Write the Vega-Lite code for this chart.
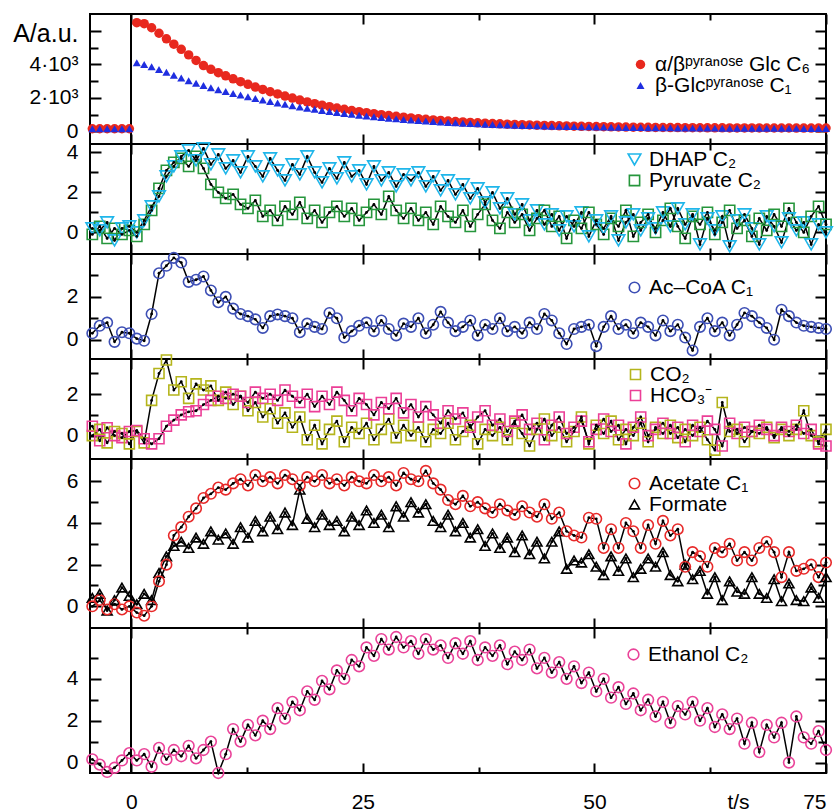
{
"$schema":"https://vega.github.io/schema/vega-lite/v6.json",
"padding":{"left":11,"top":12,"right":0,"bottom":5},
"background":"white",
"config":{"font":"Liberation Sans","view":{"stroke":"black","strokeWidth":2},
"axis":{"grid":false,"domain":false,"tickColor":"black","tickWidth":2,"labelColor":"black","labelFontSize":21,"labelFont":"Liberation Sans","titleColor":"black","titleFontSize":21,"titleFontWeight":"normal","titleFont":"Liberation Sans"},
"legend":{"labelFont":"Liberation Sans","labelFontSize":21,"labelColor":"black","padding":0,"labelOffset":4,"symbolStrokeWidth":1.6,"labelLimit":400}},
"spacing":0,
"bounds":"flush",
"resolve":{"scale":{"color":"independent","shape":"independent","size":"independent"},"legend":{"color":"independent","shape":"independent","size":"independent"}},
"datasets":{"d":[
{"t":-4.2,"g6":150,"g1":150,"dh":0.2,"py":-0.1,"ac":0.3,"co":0.0,"hc":0.45,"at":0.0,"fo":0.4,"et":0.15},
{"t":-3.4,"g6":150,"g1":150,"dh":0.1,"py":0.3,"ac":0.65,"co":0.3,"hc":-0.25,"at":0.3,"fo":0.6,"et":-0.1},
{"t":-2.6,"g6":150,"g1":150,"dh":0.5,"py":-0.3,"ac":0.8,"co":-0.35,"hc":0.38,"at":-0.15,"fo":-0.2,"et":-0.45},
{"t":-1.8,"g6":150,"g1":150,"dh":-0.4,"py":0.2,"ac":-0.1,"co":0.2,"hc":0.0,"at":0.1,"fo":0.3,"et":-0.25},
{"t":-1.0,"g6":150,"g1":150,"dh":0.2,"py":-0.1,"ac":0.35,"co":0.1,"hc":-0.1,"at":-0.15,"fo":0.9,"et":0.1},
{"t":-0.2,"g6":150,"g1":150,"dh":0.3,"py":0.1,"ac":0.3,"co":-0.4,"hc":0.2,"at":0.0,"fo":0.5,"et":0.45},
{"t":0.6,"g6":6480,"g1":4090,"dh":0.0,"py":-0.2,"ac":0.05,"co":0.2,"hc":0.25,"at":-0.3,"fo":0.1,"et":0.1},
{"t":1.4,"g6":6420,"g1":3990,"dh":0.6,"py":0.4,"ac":-0.05,"co":-0.35,"hc":-0.15,"at":-0.45,"fo":0.6,"et":0.4},
{"t":2.2,"g6":6180,"g1":3850,"dh":1.3,"py":1.1,"ac":1.2,"co":1.7,"hc":-0.4,"at":0.0,"fo":0.3,"et":-0.2},
{"t":3.0,"g6":5850,"g1":3690,"dh":1.8,"py":2.2,"ac":3.1,"co":3.0,"hc":-0.15,"at":1.2,"fo":1.6,"et":0.7},
{"t":3.8,"g6":5520,"g1":3520,"dh":2.8,"py":3.1,"ac":3.45,"co":3.65,"hc":0.45,"at":2.0,"fo":2.4,"et":0.15},
{"t":4.6,"g6":5200,"g1":3350,"dh":3.3,"py":3.5,"ac":3.82,"co":2.2,"hc":0.75,"at":3.4,"fo":2.9,"et":0.6},
{"t":5.4,"g6":4890,"g1":3180,"dh":3.8,"py":3.7,"ac":3.6,"co":2.6,"hc":1.0,"at":3.8,"fo":3.1,"et":0.3},
{"t":6.2,"g6":4560,"g1":3020,"dh":4.1,"py":3.3,"ac":2.7,"co":1.8,"hc":1.15,"at":4.3,"fo":2.8,"et":0.8},
{"t":7.0,"g6":4230,"g1":2870,"dh":3.6,"py":3.8,"ac":2.8,"co":2.5,"hc":1.2,"at":4.7,"fo":3.3,"et":0.2},
{"t":7.8,"g6":3920,"g1":2730,"dh":4.2,"py":3.2,"ac":2.95,"co":2.2,"hc":1.5,"at":5.2,"fo":3.0,"et":0.6},
{"t":8.6,"g6":3700,"g1":2600,"dh":3.4,"py":2.4,"ac":2.3,"co":2.4,"hc":1.7,"at":5.4,"fo":3.6,"et":1.0},
{"t":9.4,"g6":3500,"g1":2480,"dh":3.9,"py":2.0,"ac":1.75,"co":1.7,"hc":1.9,"at":5.7,"fo":3.2,"et":-0.5},
{"t":10.2,"g6":3310,"g1":2370,"dh":3.2,"py":1.7,"ac":2.0,"co":2.1,"hc":1.8,"at":5.6,"fo":3.5,"et":0.4},
{"t":11.0,"g6":3130,"g1":2260,"dh":3.6,"py":1.9,"ac":1.45,"co":1.5,"hc":2.0,"at":5.9,"fo":3.0,"et":1.6},
{"t":11.8,"g6":2960,"g1":2160,"dh":3.0,"py":1.4,"ac":1.2,"co":1.9,"hc":1.9,"at":6.1,"fo":3.8,"et":1.0},
{"t":12.6,"g6":2800,"g1":2060,"dh":3.8,"py":1.2,"ac":1.1,"co":1.2,"hc":1.6,"at":5.8,"fo":3.3,"et":1.8},
{"t":13.4,"g6":2640,"g1":1960,"dh":3.3,"py":1.6,"ac":0.95,"co":1.6,"hc":2.1,"at":6.3,"fo":4.1,"et":1.3},
{"t":14.2,"g6":2500,"g1":1870,"dh":2.8,"py":0.8,"ac":0.55,"co":0.9,"hc":1.8,"at":6.0,"fo":3.6,"et":2.0},
{"t":15.0,"g6":2360,"g1":1780,"dh":3.7,"py":1.1,"ac":1.1,"co":1.3,"hc":2.0,"at":6.2,"fo":4.3,"et":1.6},
{"t":15.8,"g6":2230,"g1":1690,"dh":3.1,"py":0.6,"ac":1.18,"co":0.6,"hc":1.7,"at":5.9,"fo":3.7,"et":2.6},
{"t":16.6,"g6":2100,"g1":1610,"dh":2.6,"py":1.3,"ac":1.1,"co":1.1,"hc":2.2,"at":6.3,"fo":4.5,"et":2.1},
{"t":17.4,"g6":1980,"g1":1530,"dh":3.4,"py":0.9,"ac":1.0,"co":0.4,"hc":1.9,"at":6.1,"fo":3.9,"et":2.9},
{"t":18.2,"g6":1860,"g1":1450,"dh":2.9,"py":1.5,"ac":0.35,"co":0.9,"hc":1.6,"at":5.8,"fo":5.6,"et":2.5},
{"t":19.0,"g6":1750,"g1":1380,"dh":3.8,"py":0.7,"ac":0.75,"co":-0.2,"hc":2.0,"at":6.2,"fo":4.2,"et":3.4},
{"t":19.8,"g6":1650,"g1":1310,"dh":3.0,"py":1.1,"ac":0.6,"co":0.5,"hc":1.4,"at":6.0,"fo":3.8,"et":3.0},
{"t":20.6,"g6":1560,"g1":1245,"dh":2.5,"py":0.5,"ac":0.5,"co":-0.4,"hc":1.9,"at":6.3,"fo":4.4,"et":3.9},
{"t":21.4,"g6":1470,"g1":1180,"dh":3.2,"py":1.0,"ac":1.25,"co":0.3,"hc":1.5,"at":5.9,"fo":3.9,"et":3.5},
{"t":22.2,"g6":1390,"g1":1120,"dh":2.7,"py":1.3,"ac":1.0,"co":0.7,"hc":2.1,"at":6.1,"fo":4.1,"et":4.4},
{"t":23.0,"g6":1310,"g1":1065,"dh":3.5,"py":0.8,"ac":0.1,"co":-0.3,"hc":1.7,"at":5.8,"fo":3.6,"et":4.0},
{"t":23.8,"g6":1240,"g1":1010,"dh":2.8,"py":1.2,"ac":0.4,"co":0.4,"hc":1.2,"at":6.2,"fo":4.3,"et":4.9},
{"t":24.6,"g6":1170,"g1":960,"dh":3.1,"py":0.6,"ac":0.65,"co":0.1,"hc":1.8,"at":6.0,"fo":3.9,"et":4.6},
{"t":25.4,"g6":1110,"g1":910,"dh":2.4,"py":1.0,"ac":0.8,"co":0.6,"hc":1.5,"at":5.9,"fo":4.6,"et":5.5},
{"t":26.2,"g6":1050,"g1":865,"dh":3.3,"py":1.4,"ac":0.4,"co":-0.2,"hc":1.0,"at":6.3,"fo":4.0,"et":5.1},
{"t":27.0,"g6":990,"g1":820,"dh":2.6,"py":0.9,"ac":0.9,"co":0.3,"hc":1.6,"at":6.0,"fo":4.4,"et":5.9},
{"t":27.8,"g6":940,"g1":780,"dh":3.0,"py":1.8,"ac":0.5,"co":0.8,"hc":1.3,"at":6.2,"fo":3.8,"et":5.4},
{"t":28.6,"g6":890,"g1":740,"dh":2.3,"py":1.1,"ac":0.2,"co":-0.1,"hc":1.8,"at":5.8,"fo":4.8,"et":6.0},
{"t":29.4,"g6":840,"g1":705,"dh":2.9,"py":0.7,"ac":0.75,"co":0.5,"hc":1.1,"at":6.4,"fo":4.3,"et":5.5},
{"t":30.2,"g6":795,"g1":670,"dh":2.6,"py":1.2,"ac":0.6,"co":0.0,"hc":1.5,"at":6.1,"fo":5.0,"et":5.8},
{"t":31.0,"g6":755,"g1":638,"dh":3.0,"py":0.6,"ac":1.0,"co":0.4,"hc":0.9,"at":6.0,"fo":4.5,"et":5.2},
{"t":31.8,"g6":715,"g1":608,"dh":2.3,"py":1.0,"ac":0.3,"co":-0.3,"hc":1.4,"at":6.5,"fo":4.9,"et":5.9},
{"t":32.6,"g6":680,"g1":580,"dh":2.8,"py":0.4,"ac":0.7,"co":0.3,"hc":1.0,"at":5.9,"fo":4.1,"et":5.4},
{"t":33.4,"g6":645,"g1":553,"dh":2.1,"py":1.3,"ac":1.3,"co":0.1,"hc":0.6,"at":5.6,"fo":3.8,"et":5.6},
{"t":34.2,"g6":612,"g1":528,"dh":2.6,"py":0.8,"ac":0.8,"co":0.6,"hc":1.2,"at":5.1,"fo":4.4,"et":5.0},
{"t":35.0,"g6":582,"g1":505,"dh":1.9,"py":0.5,"ac":0.4,"co":-0.2,"hc":0.8,"at":4.9,"fo":3.6,"et":5.7},
{"t":35.8,"g6":555,"g1":483,"dh":2.4,"py":1.1,"ac":0.6,"co":0.2,"hc":1.1,"at":5.3,"fo":4.0,"et":5.2},
{"t":36.6,"g6":530,"g1":462,"dh":1.7,"py":0.3,"ac":0.9,"co":0.5,"hc":0.4,"at":4.8,"fo":3.3,"et":5.8},
{"t":37.4,"g6":505,"g1":443,"dh":2.2,"py":0.9,"ac":0.2,"co":-0.4,"hc":0.9,"at":5.0,"fo":3.7,"et":4.9},
{"t":38.2,"g6":483,"g1":425,"dh":1.5,"py":1.4,"ac":0.7,"co":0.3,"hc":1.2,"at":4.7,"fo":2.9,"et":5.5},
{"t":39.0,"g6":462,"g1":408,"dh":2.0,"py":0.6,"ac":0.5,"co":0.0,"hc":0.5,"at":4.5,"fo":3.5,"et":5.1},
{"t":39.8,"g6":443,"g1":392,"dh":1.2,"py":0.2,"ac":1.0,"co":0.4,"hc":0.8,"at":4.9,"fo":2.8,"et":5.6},
{"t":40.6,"g6":425,"g1":377,"dh":1.7,"py":1.0,"ac":0.4,"co":-0.2,"hc":0.2,"at":4.6,"fo":3.3,"et":4.7},
{"t":41.4,"g6":408,"g1":363,"dh":0.9,"py":0.5,"ac":0.6,"co":0.6,"hc":0.7,"at":4.4,"fo":2.6,"et":5.3},
{"t":42.2,"g6":392,"g1":350,"dh":1.4,"py":0.9,"ac":0.3,"co":0.1,"hc":1.0,"at":4.8,"fo":3.4,"et":4.9},
{"t":43.0,"g6":377,"g1":338,"dh":0.6,"py":0.1,"ac":0.8,"co":-0.5,"hc":0.3,"at":4.5,"fo":2.5,"et":5.4},
{"t":43.8,"g6":363,"g1":326,"dh":1.1,"py":0.7,"ac":0.5,"co":0.3,"hc":0.6,"at":4.3,"fo":3.1,"et":4.5},
{"t":44.6,"g6":350,"g1":315,"dh":0.4,"py":1.1,"ac":1.2,"co":0.8,"hc":-0.2,"at":4.9,"fo":2.3,"et":5.0},
{"t":45.4,"g6":338,"g1":305,"dh":0.9,"py":0.3,"ac":0.9,"co":0.0,"hc":0.5,"at":4.2,"fo":3.1,"et":4.3},
{"t":46.2,"g6":327,"g1":295,"dh":0.1,"py":0.8,"ac":0.3,"co":0.4,"hc":0.9,"at":4.5,"fo":3.6,"et":4.8},
{"t":47.0,"g6":316,"g1":286,"dh":0.8,"py":-0.3,"ac":-0.2,"co":-0.3,"hc":0.1,"at":3.6,"fo":1.8,"et":4.0},
{"t":47.8,"g6":306,"g1":278,"dh":0.3,"py":0.6,"ac":0.5,"co":0.2,"hc":0.4,"at":3.4,"fo":2.2,"et":4.6},
{"t":48.6,"g6":297,"g1":270,"dh":1.0,"py":0.2,"ac":0.6,"co":0.9,"hc":0.7,"at":3.3,"fo":2.1,"et":3.8},
{"t":49.4,"g6":288,"g1":262,"dh":-0.2,"py":1.0,"ac":0.7,"co":-0.4,"hc":-0.3,"at":4.25,"fo":2.5,"et":4.3},
{"t":50.2,"g6":280,"g1":255,"dh":0.6,"py":0.4,"ac":-0.3,"co":0.5,"hc":0.3,"at":4.2,"fo":1.9,"et":3.4},
{"t":51.0,"g6":272,"g1":248,"dh":0.2,"py":-0.1,"ac":0.6,"co":0.1,"hc":0.8,"at":2.8,"fo":1.5,"et":4.0},
{"t":51.8,"g6":265,"g1":242,"dh":0.8,"py":0.7,"ac":1.1,"co":0.7,"hc":0.2,"at":3.7,"fo":2.4,"et":3.1},
{"t":52.6,"g6":258,"g1":236,"dh":-0.4,"py":0.3,"ac":0.5,"co":-0.2,"hc":0.5,"at":2.8,"fo":1.7,"et":3.6},
{"t":53.4,"g6":252,"g1":230,"dh":0.5,"py":1.1,"ac":0.7,"co":0.3,"hc":-0.4,"at":4.0,"fo":2.3,"et":2.8},
{"t":54.2,"g6":246,"g1":225,"dh":0.9,"py":-0.2,"ac":0.3,"co":0.0,"hc":0.4,"at":3.6,"fo":1.4,"et":3.3},
{"t":55.0,"g6":240,"g1":220,"dh":0.1,"py":0.5,"ac":0.8,"co":0.6,"hc":0.9,"at":2.8,"fo":1.8,"et":2.5},
{"t":55.8,"g6":235,"g1":216,"dh":0.7,"py":0.9,"ac":0.6,"co":-0.3,"hc":0.0,"at":3.9,"fo":2.3,"et":3.0},
{"t":56.6,"g6":230,"g1":212,"dh":0.2,"py":0.0,"ac":0.2,"co":0.4,"hc":0.3,"at":3.0,"fo":1.9,"et":2.2},
{"t":57.4,"g6":226,"g1":208,"dh":1.0,"py":0.6,"ac":0.9,"co":0.1,"hc":0.6,"at":4.1,"fo":2.6,"et":2.9},
{"t":58.2,"g6":222,"g1":204,"dh":0.3,"py":1.2,"ac":0.4,"co":0.5,"hc":0.1,"at":3.4,"fo":1.5,"et":1.9},
{"t":59.0,"g6":218,"g1":201,"dh":1.2,"py":0.3,"ac":0.7,"co":-0.1,"hc":0.4,"at":3.7,"fo":1.2,"et":2.7},
{"t":59.8,"g6":215,"g1":198,"dh":0.4,"py":-0.3,"ac":0.1,"co":0.3,"hc":-0.3,"at":1.9,"fo":2.0,"et":2.3},
{"t":60.6,"g6":212,"g1":195,"dh":0.9,"py":0.8,"ac":-0.5,"co":0.0,"hc":0.5,"at":2.6,"fo":1.3,"et":2.9},
{"t":61.4,"g6":209,"g1":192,"dh":-0.6,"py":0.4,"ac":0.6,"co":0.4,"hc":0.2,"at":2.4,"fo":1.7,"et":2.0},
{"t":62.2,"g6":207,"g1":190,"dh":0.7,"py":1.0,"ac":1.0,"co":-0.2,"hc":0.7,"at":1.9,"fo":0.6,"et":2.6},
{"t":63.0,"g6":205,"g1":188,"dh":0.1,"py":-0.1,"ac":0.4,"co":-0.7,"hc":0.3,"at":2.8,"fo":1.4,"et":1.7},
{"t":63.8,"g6":203,"g1":186,"dh":0.8,"py":0.5,"ac":0.8,"co":1.6,"hc":-0.5,"at":2.6,"fo":0.3,"et":2.3},
{"t":64.6,"g6":201,"g1":184,"dh":-0.7,"py":1.1,"ac":0.2,"co":0.2,"hc":0.6,"at":3.0,"fo":1.2,"et":1.6},
{"t":65.4,"g6":200,"g1":182,"dh":0.6,"py":0.2,"ac":0.7,"co":0.3,"hc":0.1,"at":2.2,"fo":0.7,"et":2.1},
{"t":66.2,"g6":199,"g1":180,"dh":0.9,"py":0.6,"ac":1.25,"co":-0.3,"hc":0.4,"at":2.6,"fo":0.6,"et":0.9},
{"t":67.0,"g6":198,"g1":179,"dh":0.2,"py":-0.2,"ac":1.1,"co":0.2,"hc":0.2,"at":2.2,"fo":1.4,"et":1.9},
{"t":67.8,"g6":197,"g1":178,"dh":-0.6,"py":0.7,"ac":0.8,"co":0.1,"hc":0.5,"at":2.8,"fo":0.6,"et":0.5},
{"t":68.6,"g6":196,"g1":177,"dh":0.8,"py":0.1,"ac":0.55,"co":0.4,"hc":0.3,"at":3.1,"fo":0.4,"et":1.8},
{"t":69.4,"g6":195,"g1":176,"dh":0.3,"py":0.9,"ac":0.0,"co":-0.1,"hc":0.0,"at":2.6,"fo":1.3,"et":1.2},
{"t":70.2,"g6":194,"g1":175,"dh":-0.5,"py":0.3,"ac":1.4,"co":0.3,"hc":0.4,"at":1.4,"fo":0.25,"et":1.9},
{"t":71.0,"g6":194,"g1":174,"dh":0.7,"py":1.2,"ac":1.1,"co":0.0,"hc":0.2,"at":2.6,"fo":1.1,"et":0.0},
{"t":71.8,"g6":193,"g1":173,"dh":0.1,"py":0.5,"ac":0.8,"co":0.3,"hc":0.5,"at":1.7,"fo":0.3,"et":2.2},
{"t":72.6,"g6":192,"g1":172,"dh":0.5,"py":0.0,"ac":0.65,"co":1.2,"hc":0.1,"at":1.8,"fo":0.25,"et":1.2},
{"t":73.4,"g6":192,"g1":172,"dh":-0.6,"py":0.8,"ac":0.6,"co":0.0,"hc":0.3,"at":2.0,"fo":0.9,"et":0.9},
{"t":74.2,"g6":191,"g1":171,"dh":0.4,"py":1.3,"ac":0.55,"co":-0.3,"hc":-0.4,"at":1.4,"fo":0.4,"et":1.5},
{"t":75.0,"g6":190,"g1":170,"dh":0.0,"py":0.4,"ac":0.5,"co":0.3,"hc":-0.5,"at":2.1,"fo":1.4,"et":0.6}
]},
"vconcat":[
{"width":736,"height":130,"data":{"name":"d"},
 "transform":[{"fold":["g6","g1"],"as":["s","v"]}],
 "layer":[
  {"mark":{"type":"rule","color":"black","strokeWidth":1.5},"encoding":{"x":{"datum":0,"type":"quantitative","scale":{"domain":[-4.45,75],"nice":false,"zero":false},"axis":{"orient":"top","values":[0,12.5,25,37.5,50,62.5,75],"labels":false,"title":null,"tickSize":{"condition":{"test":"datum.value % 25 === 0","value":-10},"value":-6}}}}},
  {"mark":{"type":"point","filled":true,"opacity":1},
   "encoding":{"x":{"field":"t","type":"quantitative","axis":{"orient":"bottom","values":[0,12.5,25,37.5,50,62.5,75],"labels":false,"title":null,"tickSize":{"condition":{"test":"datum.value % 25 === 0","value":-10},"value":-6}}},
    "y":{"field":"v","type":"quantitative","scale":{"domain":[-760,7000],"nice":false,"zero":false},"axis":{"orient":"left","values":[0,1000,2000,3000,4000,5000,6000],"labelExpr":"datum.value === 0 ? '0' : datum.value === 2000 ? '2·10³' : datum.value === 4000 ? '4·10³' : ''","labelPadding":23,"title":"A/a.u.","titleFontSize":25,"titleAngle":0,"titleAlign":"right","titleBaseline":"middle","titleX":-12,"titleY":19,"tickSize":{"condition":{"test":"datum.value % 2000 === 0","value":-11},"value":-8}}},
    "color":{"field":"s","type":"nominal","scale":{"domain":["g6","g1"],"range":["#e8281e","#1f2ee0"]},"legend":{"orient":"none","legendX":540,"legendY":40,"title":null,"symbolSize":80,"rowPadding":-3,"labelExpr":"datum.label === 'g6' ? 'α/βᵖʸʳᵃⁿᵒˢᵉ Glc C₆' : 'β-Glcᵖʸʳᵃⁿᵒˢᵉ C₁'"}},
    "shape":{"field":"s","type":"nominal","scale":{"domain":["g6","g1"],"range":["circle","triangle-up"]},"legend":{"orient":"none","legendX":540,"legendY":40,"title":null,"symbolSize":80,"rowPadding":-3,"labelExpr":"datum.label === 'g6' ? 'α/βᵖʸʳᵃⁿᵒˢᵉ Glc C₆' : 'β-Glcᵖʸʳᵃⁿᵒˢᵉ C₁'"}},
    "size":{"field":"s","type":"nominal","scale":{"domain":["g6","g1"],"range":[90,65]},"legend":null}}},
  {"mark":{"type":"point","opacity":0},"encoding":{"x":{"field":"t","type":"quantitative","axis":null},"y":{"field":"v","type":"quantitative","axis":{"orient":"right","values":[0,1000,2000,3000,4000,5000,6000],"labels":false,"title":null,"tickSize":{"condition":{"test":"datum.value % 2000 === 0","value":-11},"value":-8}}}}}
 ],
 "resolve":{"axis":{"x":"independent","y":"independent"}}},
{"width":736,"height":110,"data":{"name":"d"},
 "transform":[{"fold":["py","dh"],"as":["s","v"]}],
 "layer":[
  {"mark":{"type":"rule","color":"black","strokeWidth":1.5},"encoding":{"x":{"datum":0,"type":"quantitative","scale":{"domain":[-4.45,75],"nice":false,"zero":false},"axis":{"orient":"top","values":[0,12.5,25,37.5,50,62.5,75],"labels":false,"title":null,"tickSize":{"condition":{"test":"datum.value % 25 === 0","value":-10},"value":-6}}}}},
  {"mark":{"type":"line","color":"black","strokeWidth":1.5},
   "encoding":{"x":{"field":"t","type":"quantitative","axis":{"orient":"bottom","values":[0,12.5,25,37.5,50,62.5,75],"labels":false,"title":null,"tickSize":{"condition":{"test":"datum.value % 25 === 0","value":-10},"value":-6}}},
    "y":{"field":"v","type":"quantitative","scale":{"domain":[-1.08,4.42],"nice":false,"zero":false},"axis":{"orient":"left","values":[0,1,2,3,4],"labelExpr":"datum.value % 2 === 0 ? datum.label : ''","labelPadding":23,"title":null,"tickSize":{"condition":{"test":"datum.value % 2 === 0","value":-11},"value":-8}}},
    "detail":{"field":"s"}}},
  {"mark":{"type":"point","filled":false,"opacity":1,"strokeWidth":1.6},
   "encoding":{"x":{"field":"t","type":"quantitative","axis":null},
    "y":{"field":"v","type":"quantitative","axis":{"orient":"right","values":[0,1,2,3,4],"labels":false,"title":null,"tickSize":{"condition":{"test":"datum.value % 2 === 0","value":-11},"value":-8}}},
    "color":{"field":"s","type":"nominal","scale":{"domain":["dh","py"],"range":["#1fb6ea","#26963c"]},"legend":{"orient":"none","legendX":534,"legendY":5,"title":null,"symbolSize":120,"rowPadding":-3,"labelExpr":"datum.label === 'dh' ? 'DHAP C₂' : 'Pyruvate C₂'"}},
    "shape":{"field":"s","type":"nominal","scale":{"domain":["dh","py"],"range":["triangle-down","square"]},"legend":{"orient":"none","legendX":534,"legendY":5,"title":null,"symbolSize":120,"rowPadding":-3,"labelExpr":"datum.label === 'dh' ? 'DHAP C₂' : 'Pyruvate C₂'"}},
    "size":{"field":"s","type":"nominal","scale":{"domain":["dh","py"],"range":[160,105]},"legend":null}}},
  {"mark":{"type":"point","filled":true,"color":"black","size":8,"opacity":1},"encoding":{"x":{"field":"t","type":"quantitative","axis":null},"y":{"field":"v","type":"quantitative","axis":null}}}
 ],
 "resolve":{"axis":{"x":"independent","y":"independent"}}},
{"width":736,"height":105,"data":{"name":"d"},
 "transform":[{"fold":["ac"],"as":["s","v"]}],
 "layer":[
  {"mark":{"type":"rule","color":"black","strokeWidth":1.5},"encoding":{"x":{"datum":0,"type":"quantitative","scale":{"domain":[-4.45,75],"nice":false,"zero":false},"axis":{"orient":"top","values":[0,12.5,25,37.5,50,62.5,75],"labels":false,"title":null,"tickSize":{"condition":{"test":"datum.value % 25 === 0","value":-10},"value":-6}}}}},
  {"mark":{"type":"line","color":"black","strokeWidth":1.5},
   "encoding":{"x":{"field":"t","type":"quantitative","axis":{"orient":"bottom","values":[0,12.5,25,37.5,50,62.5,75],"labels":false,"title":null,"tickSize":{"condition":{"test":"datum.value % 25 === 0","value":-10},"value":-6}}},
    "y":{"field":"v","type":"quantitative","scale":{"domain":[-0.9,4.0],"nice":false,"zero":false},"axis":{"orient":"left","values":[0,1,2,3],"labelExpr":"datum.value % 2 === 0 ? datum.label : ''","labelPadding":23,"title":null,"tickSize":{"condition":{"test":"datum.value % 2 === 0","value":-11},"value":-8}}},
    "detail":{"field":"s"}}},
  {"mark":{"type":"point","filled":false,"opacity":1,"strokeWidth":1.6},
   "encoding":{"x":{"field":"t","type":"quantitative","axis":null},
    "y":{"field":"v","type":"quantitative","axis":{"orient":"right","values":[0,1,2,3],"labels":false,"title":null,"tickSize":{"condition":{"test":"datum.value % 2 === 0","value":-11},"value":-8}}},
    "color":{"field":"s","type":"nominal","scale":{"domain":["ac"],"range":["#3d4fb5"]},"legend":{"orient":"none","legendX":534,"legendY":23,"title":null,"symbolSize":110,"labelExpr":"'Ac–CoA C₁'"}},
    "shape":{"field":"s","type":"nominal","scale":{"domain":["ac"],"range":["circle"]},"legend":{"orient":"none","legendX":534,"legendY":23,"title":null,"symbolSize":110,"labelExpr":"'Ac–CoA C₁'"}},
    "size":{"value":110}}},
  {"mark":{"type":"point","filled":true,"color":"black","size":8,"opacity":1},"encoding":{"x":{"field":"t","type":"quantitative","axis":null},"y":{"field":"v","type":"quantitative","axis":null}}}
 ],
 "resolve":{"axis":{"x":"independent","y":"independent"}}},
{"width":736,"height":100,"data":{"name":"d"},
 "transform":[{"fold":["co","hc"],"as":["s","v"]}],
 "layer":[
  {"mark":{"type":"rule","color":"black","strokeWidth":1.5},"encoding":{"x":{"datum":0,"type":"quantitative","scale":{"domain":[-4.45,75],"nice":false,"zero":false},"axis":{"orient":"top","values":[0,12.5,25,37.5,50,62.5,75],"labels":false,"title":null,"tickSize":{"condition":{"test":"datum.value % 25 === 0","value":-10},"value":-6}}}}},
  {"mark":{"type":"line","color":"black","strokeWidth":1.5},
   "encoding":{"x":{"field":"t","type":"quantitative","axis":{"orient":"bottom","values":[0,12.5,25,37.5,50,62.5,75],"labels":false,"title":null,"tickSize":{"condition":{"test":"datum.value % 25 === 0","value":-10},"value":-6}}},
    "y":{"field":"v","type":"quantitative","scale":{"domain":[-1.13,3.7],"nice":false,"zero":false},"axis":{"orient":"left","values":[0,1,2,3],"labelExpr":"datum.value % 2 === 0 ? datum.label : ''","labelPadding":23,"title":null,"tickSize":{"condition":{"test":"datum.value % 2 === 0","value":-11},"value":-8}}},
    "detail":{"field":"s"}}},
  {"mark":{"type":"point","filled":false,"opacity":1,"strokeWidth":1.6},
   "encoding":{"x":{"field":"t","type":"quantitative","axis":null},
    "y":{"field":"v","type":"quantitative","axis":{"orient":"right","values":[0,1,2,3],"labels":false,"title":null,"tickSize":{"condition":{"test":"datum.value % 2 === 0","value":-11},"value":-8}}},
    "color":{"field":"s","type":"nominal","scale":{"domain":["co","hc"],"range":["#b5b51c","#ec3f97"]},"legend":{"orient":"none","legendX":535,"legendY":5,"title":null,"symbolSize":100,"rowPadding":-3,"labelExpr":"datum.label === 'co' ? 'CO₂' : 'HCO₃⁻'"}},
    "shape":{"field":"s","type":"nominal","scale":{"domain":["co","hc"],"range":["square","square"]},"legend":{"orient":"none","legendX":535,"legendY":5,"title":null,"symbolSize":100,"rowPadding":-3,"labelExpr":"datum.label === 'co' ? 'CO₂' : 'HCO₃⁻'"}},
    "size":{"value":100}}},
  {"mark":{"type":"point","filled":true,"color":"black","size":8,"opacity":1},"encoding":{"x":{"field":"t","type":"quantitative","axis":null},"y":{"field":"v","type":"quantitative","axis":null}}}
 ],
 "resolve":{"axis":{"x":"independent","y":"independent"}}},
{"width":736,"height":169,"data":{"name":"d"},
 "transform":[{"fold":["fo","at"],"as":["s","v"]}],
 "layer":[
  {"mark":{"type":"rule","color":"black","strokeWidth":1.5},"encoding":{"x":{"datum":0,"type":"quantitative","scale":{"domain":[-4.45,75],"nice":false,"zero":false},"axis":{"orient":"top","values":[0,12.5,25,37.5,50,62.5,75],"labels":false,"title":null,"tickSize":{"condition":{"test":"datum.value % 25 === 0","value":-10},"value":-6}}}}},
  {"mark":{"type":"line","color":"black","strokeWidth":1.5},
   "encoding":{"x":{"field":"t","type":"quantitative","axis":{"orient":"bottom","values":[0,12.5,25,37.5,50,62.5,75],"labels":false,"title":null,"tickSize":{"condition":{"test":"datum.value % 25 === 0","value":-10},"value":-6}}},
    "y":{"field":"v","type":"quantitative","scale":{"domain":[-1.04,7.07],"nice":false,"zero":false},"axis":{"orient":"left","values":[0,1,2,3,4,5,6],"labelExpr":"datum.value % 2 === 0 ? datum.label : ''","labelPadding":23,"title":null,"tickSize":{"condition":{"test":"datum.value % 2 === 0","value":-11},"value":-8}}},
    "detail":{"field":"s"}}},
  {"mark":{"type":"point","filled":false,"opacity":1,"strokeWidth":1.6},
   "encoding":{"x":{"field":"t","type":"quantitative","axis":null},
    "y":{"field":"v","type":"quantitative","axis":{"orient":"right","values":[0,1,2,3,4,5,6],"labels":false,"title":null,"tickSize":{"condition":{"test":"datum.value % 2 === 0","value":-11},"value":-8}}},
    "color":{"field":"s","type":"nominal","scale":{"domain":["at","fo"],"range":["#e82a2a","#000000"]},"legend":{"orient":"none","legendX":534,"legendY":14,"title":null,"symbolSize":110,"rowPadding":-3,"labelExpr":"datum.label === 'at' ? 'Acetate C₁' : 'Formate'"}},
    "shape":{"field":"s","type":"nominal","scale":{"domain":["at","fo"],"range":["circle","triangle-up"]},"legend":{"orient":"none","legendX":534,"legendY":14,"title":null,"symbolSize":110,"rowPadding":-3,"labelExpr":"datum.label === 'at' ? 'Acetate C₁' : 'Formate'"}},
    "size":{"field":"s","type":"nominal","scale":{"domain":["at","fo"],"range":[110,100]},"legend":null}}},
  {"mark":{"type":"point","filled":true,"color":"black","size":8,"opacity":1},"encoding":{"x":{"field":"t","type":"quantitative","axis":null},"y":{"field":"v","type":"quantitative","axis":null}}}
 ],
 "resolve":{"axis":{"x":"independent","y":"independent"}}},
{"width":736,"height":145,"data":{"name":"d"},
 "transform":[{"fold":["et"],"as":["s","v"]}],
 "layer":[
  {"mark":{"type":"rule","color":"black","strokeWidth":1.5},"encoding":{"x":{"datum":0,"type":"quantitative","scale":{"domain":[-4.45,75],"nice":false,"zero":false},"axis":{"orient":"top","values":[0,12.5,25,37.5,50,62.5,75],"labels":false,"title":null,"tickSize":{"condition":{"test":"datum.value % 25 === 0","value":-10},"value":-6}}}}},
  {"mark":{"type":"line","color":"black","strokeWidth":1.5},
   "encoding":{"x":{"field":"t","type":"quantitative","axis":{"orient":"bottom","values":[0,12.5,25,37.5,50,62.5,75],"labelExpr":"datum.value % 25 === 0 ? datum.label : ''","labelPadding":28,"title":"t/s","titleX":648,"titleY":29,"titleBaseline":"middle","titleAlign":"center","tickSize":{"condition":{"test":"datum.value % 25 === 0","value":-10},"value":-6}}},
    "y":{"field":"v","type":"quantitative","scale":{"domain":[-0.5,6.43],"nice":false,"zero":false},"axis":{"orient":"left","values":[0,1,2,3,4,5],"labelExpr":"datum.value % 2 === 0 ? datum.label : ''","labelPadding":23,"title":null,"tickSize":{"condition":{"test":"datum.value % 2 === 0","value":-11},"value":-8}}},
    "detail":{"field":"s"}}},
  {"mark":{"type":"point","filled":false,"opacity":1,"strokeWidth":1.6},
   "encoding":{"x":{"field":"t","type":"quantitative","axis":null},
    "y":{"field":"v","type":"quantitative","axis":{"orient":"right","values":[0,1,2,3,4,5],"labels":false,"title":null,"tickSize":{"condition":{"test":"datum.value % 2 === 0","value":-11},"value":-8}}},
    "color":{"field":"s","type":"nominal","scale":{"domain":["et"],"range":["#ea4399"]},"legend":{"orient":"none","legendX":533,"legendY":16,"title":null,"symbolSize":115,"labelExpr":"'Ethanol C₂'"}},
    "shape":{"field":"s","type":"nominal","scale":{"domain":["et"],"range":["circle"]},"legend":{"orient":"none","legendX":533,"legendY":16,"title":null,"symbolSize":115,"labelExpr":"'Ethanol C₂'"}},
    "size":{"value":115}}},
  {"mark":{"type":"point","filled":true,"color":"black","size":8,"opacity":1},"encoding":{"x":{"field":"t","type":"quantitative","axis":null},"y":{"field":"v","type":"quantitative","axis":null}}}
 ],
 "resolve":{"axis":{"x":"independent","y":"independent"}}}
]
}
